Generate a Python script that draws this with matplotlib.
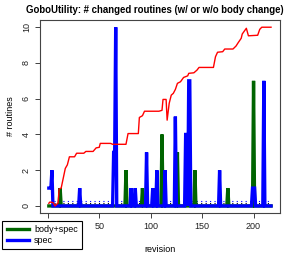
import numpy as np
import matplotlib
matplotlib.use("Agg")
import matplotlib.pyplot as plt

plt.rcParams['font.family'] = ['Liberation Sans', 'DejaVu Sans']

# revisions 1..217
n_rev = 217
revisions = np.arange(1, n_rev + 1)

# non-zero counts: revision -> # routines
spec_points = {1: 1, 2: 1, 3: 1, 4: 2, 31: 1, 64: 3, 65: 3, 66: 10,
               81: 1, 85: 1, 96: 3, 102: 1, 106: 2, 114: 2, 124: 5,
               134: 4, 135: 4, 137: 7, 138: 7, 167: 2, 199: 1, 200: 1,
               201: 1, 210: 7}
body_spec_points = {12: 1, 76: 2, 92: 1, 111: 4, 126: 3, 143: 2,
                    175: 1, 200: 7}

# red curve breakpoints (revision, value)
red_rev = [1, 2, 5, 7, 10, 11, 13, 15, 17, 19, 21, 26, 28, 35, 37, 44, 47,
           50, 51, 61, 63, 76, 78, 88, 89, 92, 94, 108, 111, 112, 115, 116,
           118, 120, 122, 124, 126, 129, 132, 136, 137, 142, 145, 147, 161,
           163, 165, 170, 172, 180, 183, 185, 188, 189, 193, 195, 204, 206,
           208, 217]
red_val = [0.15, 0.22, 0.19, 0.0, 0.17, 0.95, 1.0, 1.55, 2.1, 2.3, 2.75,
           2.75, 2.95, 2.95, 3.05, 3.05, 3.25, 3.28, 3.5, 3.5, 3.45, 3.45,
           4.05, 4.05, 4.95, 5.05, 5.3, 5.3, 5.35, 5.96, 5.96, 4.8, 5.74,
           6.2, 6.3, 6.52, 6.86, 6.95, 7.19, 7.28, 7.42, 7.45, 7.6, 7.75,
           7.75, 8.35, 8.6, 8.63, 8.78, 8.78, 8.95, 9.13, 9.38, 9.62, 9.94,
           9.52, 9.55, 9.88, 10.0, 10.0]

dotted_levels = [0.28, 0.14]
dotted_colors = ['blue', 'black']

spec = np.zeros(n_rev)
for r, v in spec_points.items():
    spec[r - 1] = v
body_spec = np.zeros(n_rev)
for r, v in body_spec_points.items():
    body_spec[r - 1] = v

fig = plt.figure(figsize=(2.94, 2.54), dpi=100)
ax = fig.add_axes([0.136, 0.161, 0.816, 0.76])

for lev, col in zip(dotted_levels, dotted_colors):
    ax.plot([6, 215], [lev, lev], color=col, lw=0.8, ls=(0, (1, 3)))

ax.plot(revisions, body_spec, color='#006400', lw=2.4, label='body+spec',
        solid_joinstyle='miter')
ax.plot(revisions, spec, color='blue', lw=2.4, label='spec',
        solid_joinstyle='miter')
ax.plot(red_rev, red_val, color='red', lw=1.0)

ax.set_xlim(-7.6, 225.6)
ax.set_ylim(-0.4, 10.4)
ax.set_xticks([0, 50, 100, 150, 200])
# the "0" label sits under the legend in the original
ax.set_xticklabels(['', '50', '100', '150', '200'])
ax.set_yticks([0, 2, 4, 6, 8, 10])
ax.tick_params(direction='out', length=3.5, width=0.6, labelsize=6.5,
               pad=3, colors='#222222')
for lab in ax.get_yticklabels():
    lab.set_rotation(90)
    lab.set_va('center')
for s in ax.spines.values():
    s.set_linewidth(0.8)
    s.set_color('#444444')

ax.set_title('GoboUtility: # changed routines (w/ or w/o body change)',
             fontsize=6.9, fontweight='bold', pad=5, x=0.48)
ax.set_xlabel('revision', fontsize=6.5, labelpad=10)
ax.set_ylabel('# routines', fontsize=6.5, labelpad=5)

leg = fig.legend(loc='upper left', bbox_to_anchor=(0.008, 0.13),
                 fontsize=6.5, frameon=True, fancybox=False,
                 edgecolor='black', framealpha=1, borderpad=0.5,
                 handlelength=2.4, handletextpad=0.6, labelspacing=0.15,
                 borderaxespad=0)
leg.get_frame().set_linewidth(0.8)

fig.savefig('out.png', dpi=100)
